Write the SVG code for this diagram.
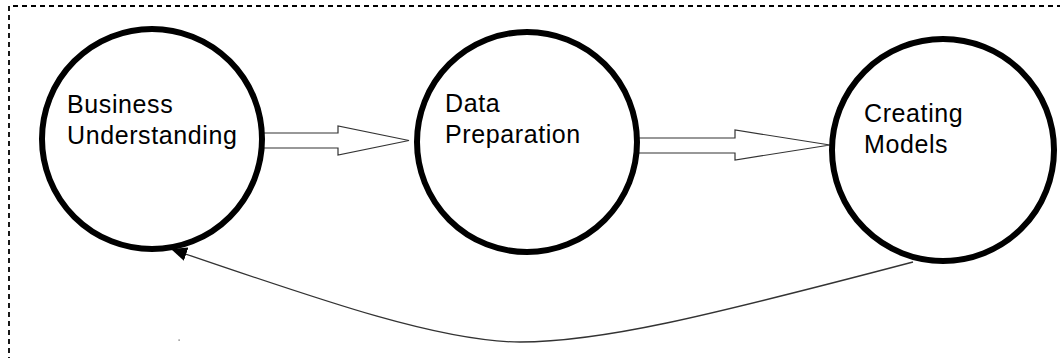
<svg xmlns="http://www.w3.org/2000/svg" width="1060" height="358" viewBox="0 0 1060 358">
  <defs>
    <style>
      .frame { fill: none; stroke: #000; stroke-width: 1.8; stroke-dasharray: 5 4; }
      .node circle { fill: #fff; stroke: #000; stroke-width: 6; }
      .node text { font-family: "Liberation Sans", Arial, sans-serif; font-size: 25px; letter-spacing: 0.6px; fill: #000; }
      .block { fill: #fff; stroke: #333; stroke-width: 1.2; stroke-linejoin: miter; }
      .loop { fill: none; stroke: #333; stroke-width: 1.3; }
    </style>
    <marker id="head" markerUnits="userSpaceOnUse" markerWidth="18" markerHeight="14" refX="16" refY="7" orient="auto">
      <path d="M0,0 L16,7 L0,14 z" fill="#000"/>
    </marker>
  </defs>

  <rect width="1060" height="358" fill="#fff"/>

  <!-- dashed page frame (top and left edges) -->
  <path class="frame" d="M9,362 L9,6 L1062,6"/>

  <!-- connectors -->
  <g id="connectors">
    <polygon class="block" points="262,133 338,133 338,126 409,140.5 338,155 338,148 262,148"/>
    <polygon class="block" points="636,138 735,138 735,130 830,145 735,160 735,153 636,153"/>
    <path class="loop" d="M913,262 C700,318 600,342 520,342 C440,342 320,300 171,249" marker-end="url(#head)"/>
  </g>

  <g id="node-business" class="node">
    <circle cx="152" cy="139" r="110"/>
    <text x="67" y="113">Business</text>
    <text x="67" y="144">Understanding</text>
  </g>

  <g id="node-data" class="node">
    <circle cx="527" cy="142" r="110"/>
    <text x="445" y="112">Data</text>
    <text x="445" y="143">Preparation</text>
  </g>

  <g id="node-models" class="node">
    <circle cx="943" cy="150" r="111"/>
    <text x="864" y="122">Creating</text>
    <text x="864" y="153">Models</text>
  </g>

  <rect x="178.5" y="339.5" width="1.2" height="1.2" fill="#555"/>
</svg>
